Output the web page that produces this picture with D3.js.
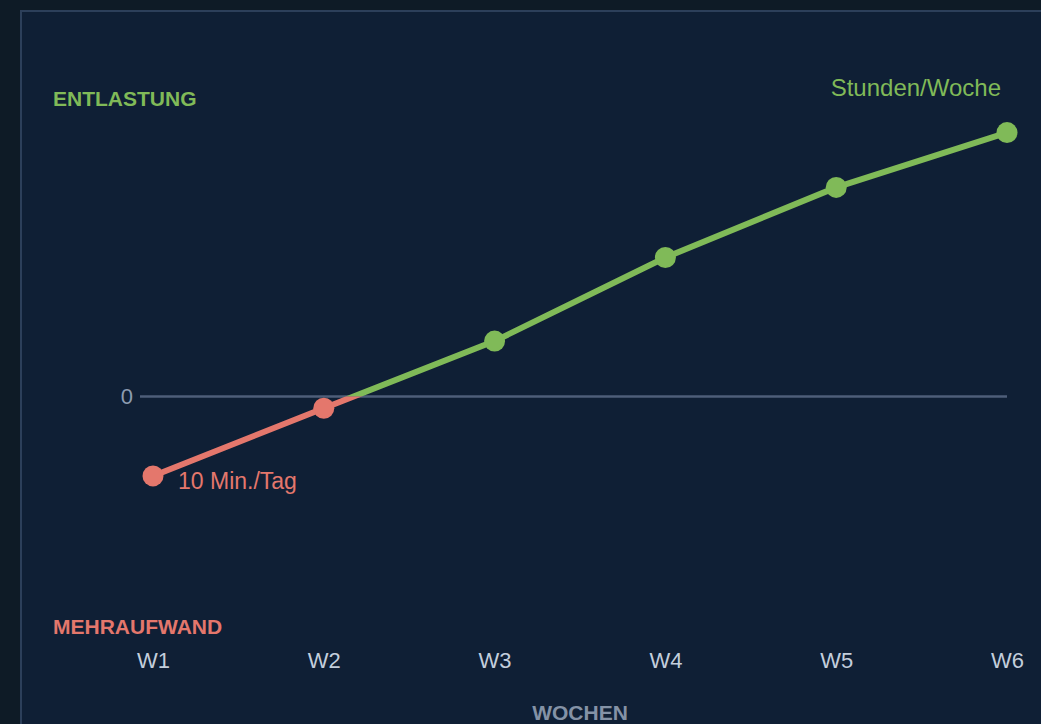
<!DOCTYPE html>
<html>
<head>
<meta charset="utf-8">
<script src="https://cdn.jsdelivr.net/npm/d3@7/dist/d3.min.js"></script>
<style>
  html, body { margin: 0; padding: 0; background: #0e1b26; }
  svg { display: block; }
  text { font-family: "Liberation Sans", Arial, Helvetica, sans-serif; }
</style>
</head>
<body>
<script>
const weeks = ["W1", "W2", "W3", "W4", "W5", "W6"];
const values = [-1.35, -0.2, 0.94, 2.36, 3.55, 4.48];
const yDomain = [-4, 5];
const yTicks = [0];
const labelTop = "ENTLASTUNG";
const labelBottom = "MEHRAUFWAND";
const xTitle = "WOCHEN";
const startNote = "10 Min./Tag";
const endNote = "Stunden/Woche";

const W = 1041, H = 724;
const green = "#80ba58", red = "#e4776c";

const svg = d3.select("body").append("svg").attr("width", W).attr("height", H);
svg.append("rect").attr("width", W).attr("height", H).attr("fill", "#0e1b26");
svg.append("rect").attr("x", 21).attr("y", 11).attr("width", W + 10).attr("height", H + 10)
  .attr("fill", "#0f1f35").attr("stroke", "#2c3f5a").attr("stroke-width", 2);

const x = d3.scalePoint().domain(weeks).range([153, 1007]);
const y = d3.scaleLinear().domain(yDomain).range([632, 102]);

// zero line
const y0 = y(0);
svg.append("line").attr("x1", 140).attr("x2", 1007).attr("y1", y0).attr("y2", y0)
  .attr("stroke", "#4e5e79").attr("stroke-width", 2.5);

// y tick labels
svg.selectAll(".ytick").data(yTicks).enter().append("text")
  .attr("x", 133).attr("y", d => y(d)).attr("dy", "0.35em")
  .attr("text-anchor", "end").attr("font-size", 22).attr("fill", "#8c9cb1")
  .text(d => d);

// x axis tick labels
const xAxis = d3.axisBottom(x).tickSize(0).tickPadding(0);
const gx = svg.append("g").attr("transform", "translate(0,652)").call(xAxis);
gx.select(".domain").remove();
gx.selectAll("text").attr("font-size", 22).attr("fill", "#c3cedc")
  .attr("font-family", "Liberation Sans, Arial, sans-serif");

// clip paths for sign coloring
const defs = svg.append("defs");
defs.append("clipPath").attr("id", "above").append("rect")
  .attr("x", 0).attr("y", 0).attr("width", W).attr("height", y0);
defs.append("clipPath").attr("id", "below").append("rect")
  .attr("x", 0).attr("y", y0).attr("width", W).attr("height", H - y0);

const data = weeks.map((w, i) => ({ w, v: values[i] }));
const line = d3.line().x(d => x(d.w)).y(d => y(d.v));

svg.append("path").datum(data).attr("d", line).attr("fill", "none")
  .attr("stroke", green).attr("stroke-width", 6).attr("clip-path", "url(#above)");
svg.append("path").datum(data).attr("d", line).attr("fill", "none")
  .attr("stroke", red).attr("stroke-width", 6).attr("clip-path", "url(#below)");

svg.selectAll(".pt").data(data).enter().append("circle")
  .attr("cx", d => x(d.w)).attr("cy", d => y(d.v)).attr("r", 10.5)
  .attr("fill", d => d.v < 0 ? red : green);

// labels
svg.append("text").attr("x", 53).attr("y", 106).attr("font-size", 21).attr("font-weight", "bold")
  .attr("fill", green).text(labelTop);
svg.append("text").attr("x", 53).attr("y", 634).attr("font-size", 21).attr("font-weight", "bold")
  .attr("fill", red).text(labelBottom);
svg.append("text").attr("x", (x.range()[0] + x.range()[1]) / 2).attr("y", 720)
  .attr("text-anchor", "middle").attr("font-size", 21).attr("font-weight", "bold")
  .attr("fill", "#8492a6").text(xTitle);
svg.append("text").attr("x", x(weeks[0]) + 25).attr("y", 489).attr("font-size", 23)
  .attr("fill", red).text(startNote);
svg.append("text").attr("x", 1001).attr("y", 96).attr("text-anchor", "end").attr("font-size", 24)
  .attr("fill", green).text(endNote);
</script>
</body>
</html>
